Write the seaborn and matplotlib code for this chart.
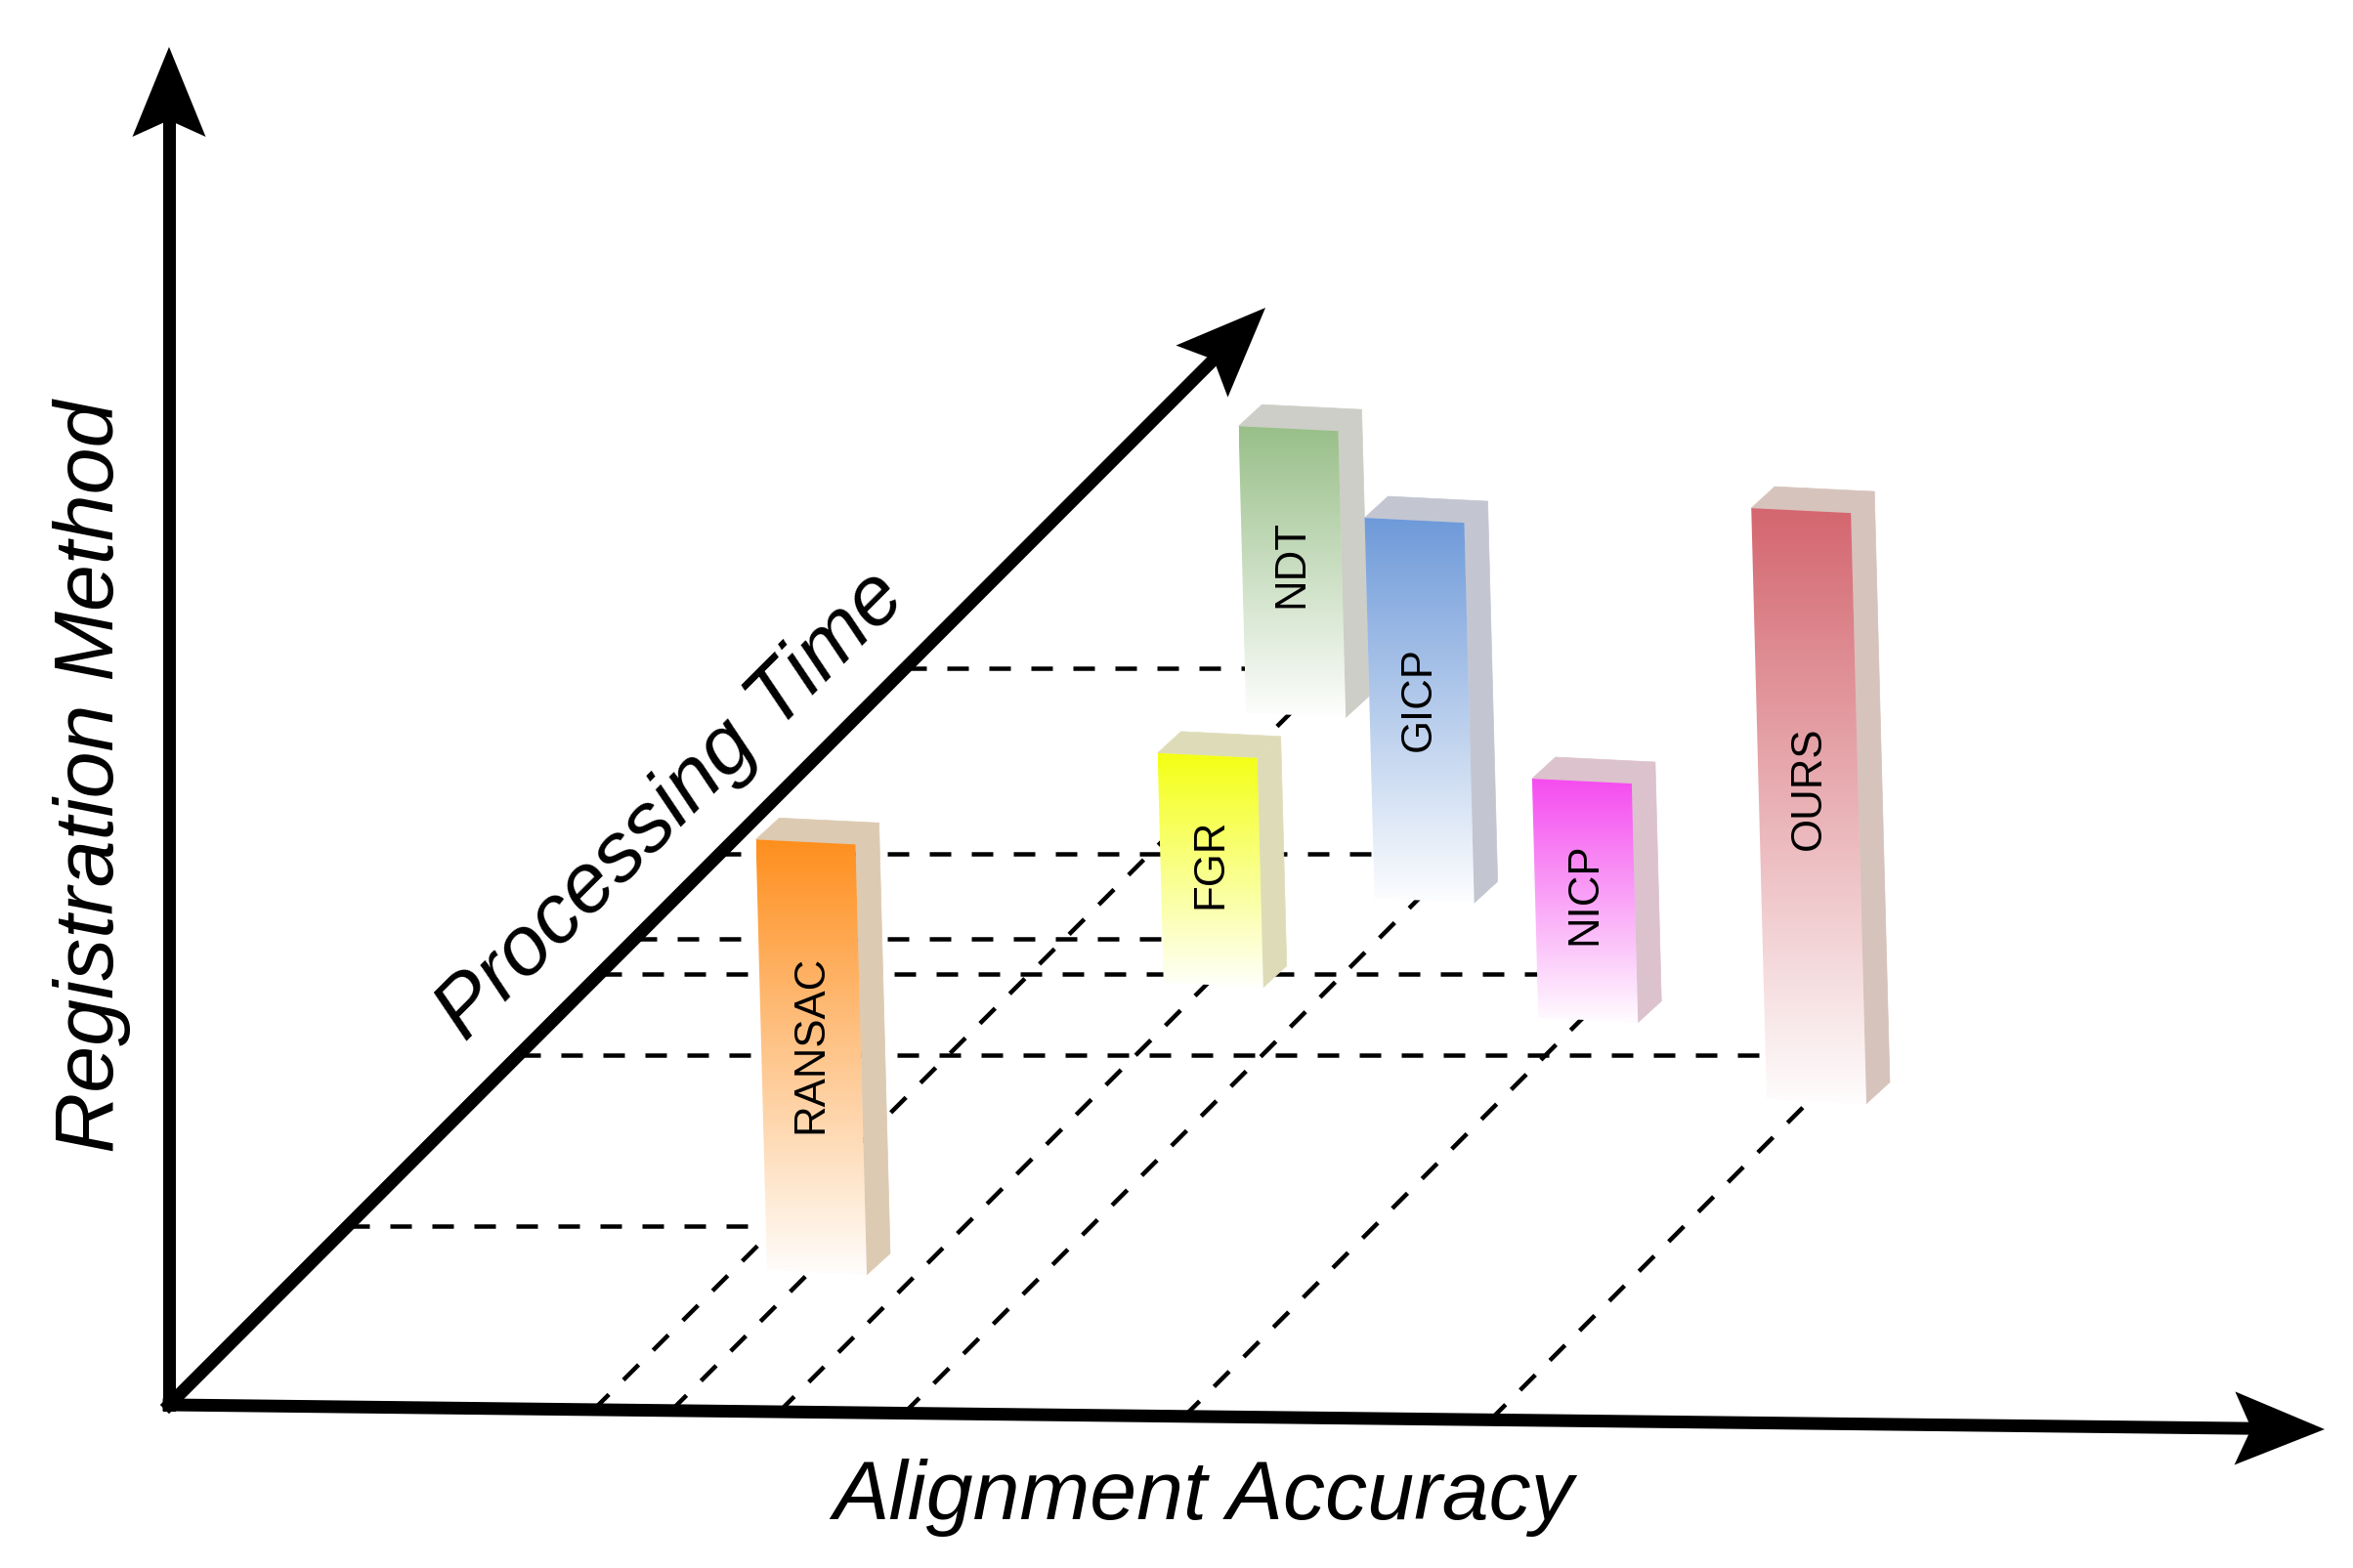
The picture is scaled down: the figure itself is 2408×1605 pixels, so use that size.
import numpy as np
import pandas as pd
import matplotlib
matplotlib.use("Agg")
import matplotlib.pyplot as plt
import seaborn as sns
from matplotlib.patches import Polygon
from matplotlib import font_manager
from matplotlib.colors import to_rgb

# ------------------------------------------------------------
# data: positions are fractions of each axis length
# ------------------------------------------------------------
METHODS = ["NDT", "GICP", "FGR", "NICP", "OURS", "RANSAC"]
ACCURACY = [0.197, 0.341, 0.283, 0.471, 0.613, 0.233]   # along "Alignment Accuracy"
TIME = [0.671, 0.502, 0.425, 0.393, 0.319, 0.163]        # along "Processing Time"
HEIGHT = [0.211, 0.280, 0.169, 0.176, 0.435, 0.317]      # bar height (vertical axis)

FRONT_COLORS = ["#98BF88", "#6E9AD9", "#F4FF14", "#F54CEF", "#D4666F", "#FE8F1E"]
SIDE_COLORS = ["#CDCEC7", "#C3C6D1", "#DEDCB8", "#DCC2CC", "#D6C3BC", "#DCCAB2"]

# ------------------------------------------------------------
# canvas geometry (pixels of the 2408 x 1605 output)
# ------------------------------------------------------------
W, H = 2408, 1605
ORIGIN = np.array([173.0, 1438.0])
X_TIP = np.array([2379.0, 1463.0])
Y_TIP = np.array([173.0, 48.0])
T_TIP = np.array([1295.0, 315.0])

X_LEN = X_TIP[0] - ORIGIN[0]
X_SLOPE = (X_TIP[1] - ORIGIN[1]) / X_LEN
T_LEN = ORIGIN[1] - T_TIP[1]
Z_LEN = ORIGIN[1] - Y_TIP[1]

BAR_W = 102
DEPTH = np.array([24.0, -22.0])
BASE_GAP = 45
ANCHOR = 0.45
LEAN = 0.026
TILT = 5
LABEL_POS = 0.47   # label centre, fraction of bar height from the top

AXIS_LW = 13 * 72 / 100
DASH_LW = 4.5 * 72 / 100
DASH = (0, (22 / 4.5, 21 / 4.5))


def foot(acc):
    x = ORIGIN[0] + acc * X_LEN
    return np.array([x, ORIGIN[1] + (x - ORIGIN[0]) * X_SLOPE])


def level(t):
    return ORIGIN + t * (T_TIP - ORIGIN)


def arrow_head(ax, start, tip, length=92, half=37.5, notch=17):
    u = (tip - start) / np.linalg.norm(tip - start)
    n = np.array([-u[1], u[0]])
    back = tip - length * u
    pts = [tip, back + half * n, tip - (length - notch) * u, back - half * n]
    ax.fill(*zip(*pts), color="black", lw=0, zorder=20)
    ax.plot(*zip(start, tip - (length - notch) * u), color="black", lw=AXIS_LW,
            solid_capstyle="projecting", zorder=20)


def draw_bar(ax, bl, h, front, side, label, z):
    bx, by = bl
    lean = LEAN * h
    BL = np.array([bx, by])
    BR = np.array([bx + BAR_W, by + TILT])
    TL = np.array([bx - lean, by - h])
    TR = np.array([bx - lean + BAR_W, by - h + TILT])

    for pts in ([TR, TR + DEPTH, BR + DEPTH, BR], [TL, TL + DEPTH, TR + DEPTH, TR]):
        ax.add_patch(Polygon(pts, closed=True, facecolor=side, edgecolor=side,
                             lw=0.5, zorder=z))

    face = Polygon([TL, TR, BR, BL], closed=True, facecolor="none", lw=0)
    ax.add_patch(face)
    top_c = np.array(to_rgb(front))
    end_c = 0.985 * np.ones(3) + 0.015 * top_c
    s = np.linspace(0, 1, 256)[:, None]
    grad = (1 - s) * top_c + s * end_c
    xs = [TL[0], TR[0], BR[0], BL[0]]
    ys = [TL[1], TR[1], BR[1], BL[1]]
    im = ax.imshow(grad[:, None, :], extent=(min(xs), max(xs), max(ys), min(ys)),
                   origin="upper", aspect="auto", interpolation="bilinear", zorder=z + 0.1)
    im.set_clip_path(face)

    cy = (TL[1] + TR[1]) / 2 + LABEL_POS * h
    ax.text(np.mean(xs), cy, label, rotation=90, ha="center", va="center",
            fontsize=LABEL_SIZE, family=LABEL_FAMILY, color="black", zorder=z + 0.2)


sns.set_theme(style="white")
plt.rcParams["font.family"] = ["Liberation Sans", "DejaVu Sans"]
plt.rcParams["text.color"] = "black"

installed = {f.name for f in font_manager.fontManager.ttflist}
if "Liberation Sans Narrow" in installed:
    LABEL_FAMILY, LABEL_SIZE = ["Liberation Sans Narrow", "Liberation Sans"], 36.5
else:
    LABEL_FAMILY, LABEL_SIZE = ["Liberation Sans", "DejaVu Sans"], 31.5

fig = plt.figure(figsize=(W / 100, H / 100), dpi=100)
ax = fig.add_axes([0, 0, 1, 1])

# guide lines (dashed), collected as long-form segments
rows = []
bars = []
for i, (m, a, t, h) in enumerate(zip(METHODS, ACCURACY, TIME, HEIGHT)):
    f = foot(a)
    lv = level(t)
    yb = lv[1] + BASE_GAP
    xb = f[0] + (f[1] - yb)
    bl = np.array([xb - ANCHOR * BAR_W, yb])
    bars.append((bl, h * Z_LEN))
    rows += [(f"{m}-d", f[0], f[1]), (f"{m}-d", xb, yb)]
    rows += [(f"{m}-h", lv[0], lv[1]), (f"{m}-h", bl[0] + 15, lv[1])]
seg = pd.DataFrame(rows, columns=["seg", "x", "y"])
sns.lineplot(data=seg, x="x", y="y", units="seg", estimator=None, sort=False,
             color="black", lw=DASH_LW, linestyle=DASH, ax=ax, zorder=1)

for i, (m, (bl, hpx)) in enumerate(zip(METHODS, bars)):
    draw_bar(ax, bl, hpx, FRONT_COLORS[i], SIDE_COLORS[i], m, 2 + i)

# axes arrows
for tip in (Y_TIP, X_TIP, T_TIP):
    arrow_head(ax, ORIGIN, tip)

ax.text(94, 795, "Registration Method", rotation=90, ha="center", va="center",
        fontsize=62, style="italic", color="black", zorder=21)
ax.text(1231, 1533, "Alignment Accuracy", ha="center", va="center",
        fontsize=62, style="italic", color="black", zorder=21)
ax.text(687, 825, "Processing Time", rotation=45, rotation_mode="anchor",
        ha="center", va="center", fontsize=62, style="italic", color="black", zorder=21)

ax.set_xlim(0, W)
ax.set_ylim(H, 0)
ax.axis("off")
fig.savefig("out.png", dpi=100, facecolor="white")
